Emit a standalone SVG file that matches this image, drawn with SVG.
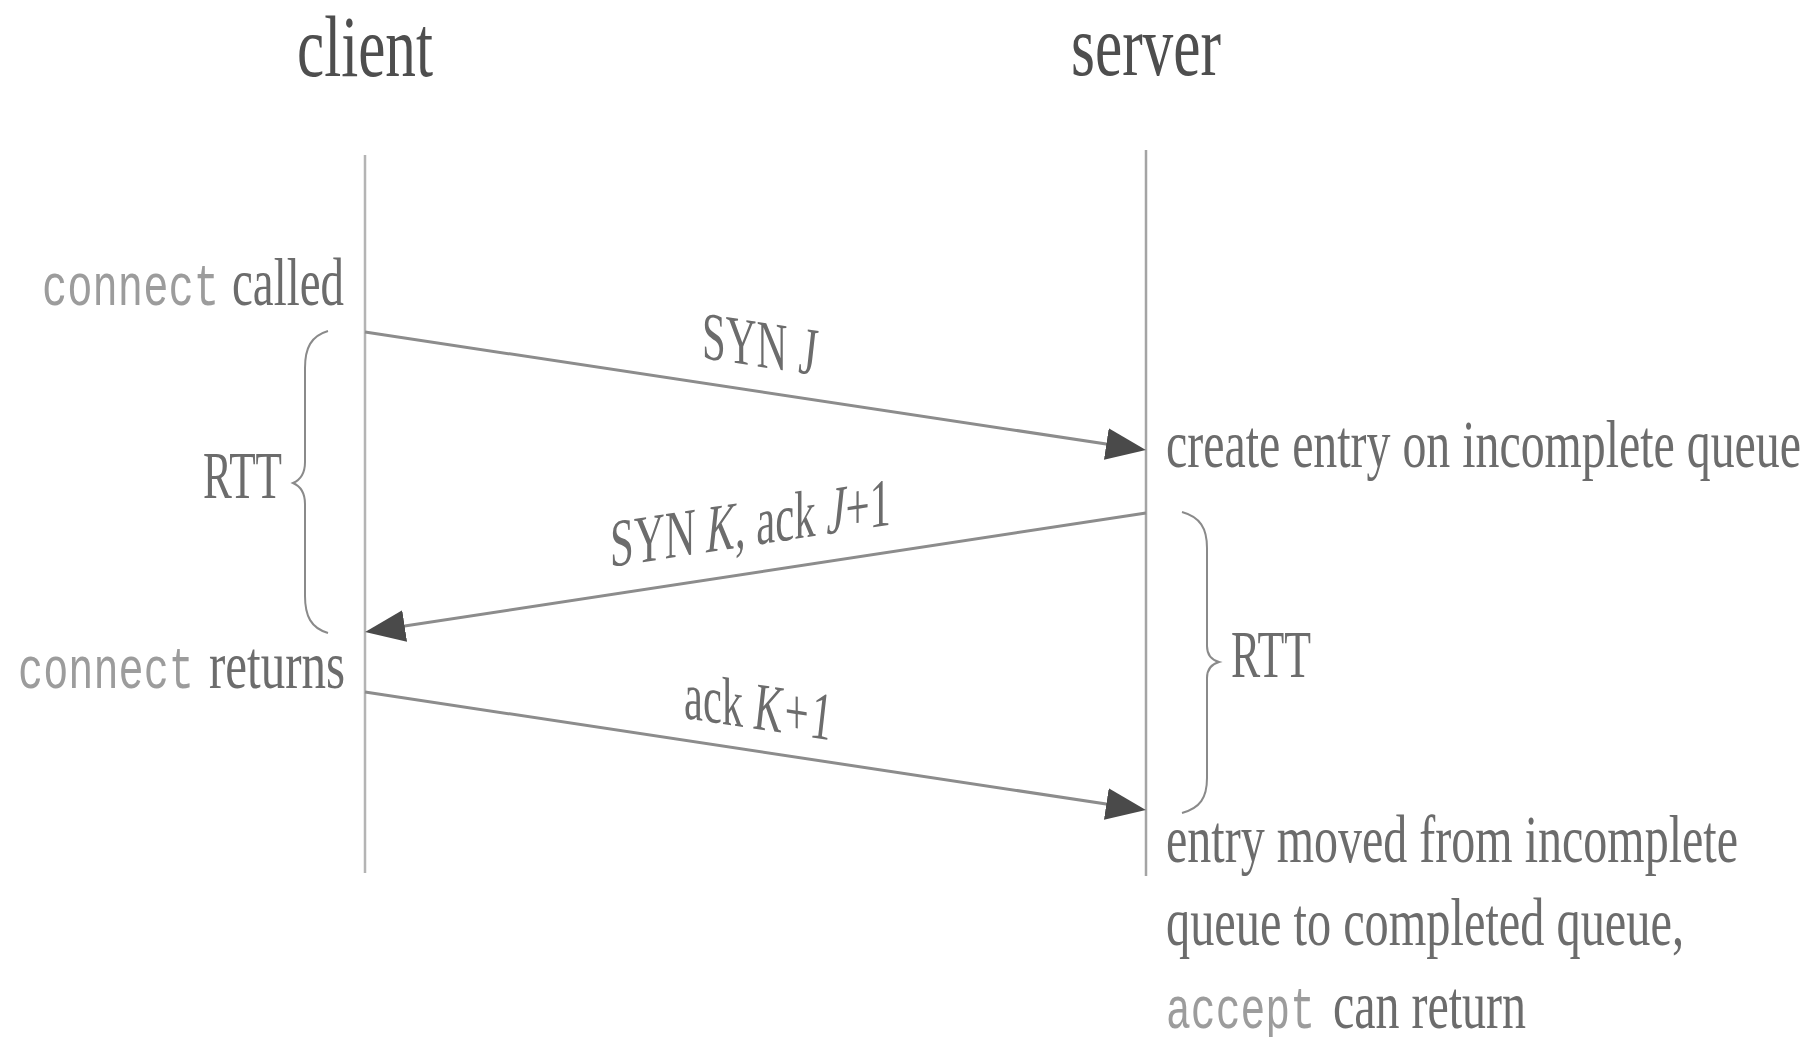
<svg xmlns="http://www.w3.org/2000/svg" width="1810" height="1037" viewBox="0 0 1810 1037">
  <style>
    .title { font-family: "Liberation Serif", serif; font-size: 86px; fill: #4e4e4e; }
    .txt { font-family: "Liberation Serif", serif; font-size: 68px; fill: #6c6c6c; }
    .code { font-family: "Liberation Mono", monospace; font-size: 60px; fill: #9c9c9c; }
    .life { stroke: #b4b4b4; stroke-width: 2.5; fill: none; }
    .msg { stroke: #8c8c8c; stroke-width: 3; fill: none; }
    .brace { stroke: #8a8a8a; stroke-width: 2; fill: none; }
    .it { font-style: italic; }
  </style>
  <defs>
    <marker id="arrow" markerUnits="userSpaceOnUse" markerWidth="42" markerHeight="34" refX="30" refY="16" orient="auto">
      <path d="M0,0 L40,16 L0,32 z" fill="#4a4a4a"/>
    </marker>
  </defs>

  <g id="client">
    <text class="title" x="297" y="76" textLength="136" lengthAdjust="spacingAndGlyphs">client</text>
    <line class="life" x1="365" y1="155" x2="365" y2="873"/>
  </g>
  <g id="server">
    <text class="title" x="1071" y="75" textLength="150" lengthAdjust="spacingAndGlyphs">server</text>
    <line class="life" x1="1146" y1="150" x2="1146" y2="876" style="stroke:#a4a4a4"/>
  </g>

  <g id="connectors">
    <path class="msg" d="M365,332 L1136,448.5" marker-end="url(#arrow)"/>
    <path class="msg" d="M1146,513 L375,630.5" marker-end="url(#arrow)"/>
    <path class="msg" d="M365,692 L1136,808.5" marker-end="url(#arrow)"/>
  </g>

  <g id="labels-msg">
    <text class="txt" transform="translate(702,358) skewY(8.6)" textLength="115" lengthAdjust="spacingAndGlyphs">SYN <tspan class="it">J</tspan></text>
    <text class="txt" transform="translate(610,567) skewY(-8.6)" textLength="281" lengthAdjust="spacingAndGlyphs">SYN <tspan class="it">K</tspan>, ack <tspan class="it">J</tspan>+1</text>
    <text class="txt" transform="translate(684,718) skewY(8.6)" textLength="148" lengthAdjust="spacingAndGlyphs">ack <tspan class="it">K+1</tspan></text>
  </g>

  <g id="client-notes">
    <text class="code" x="42" y="305" textLength="177" lengthAdjust="spacingAndGlyphs">connect</text>
    <text class="txt" x="232" y="305" textLength="112" lengthAdjust="spacingAndGlyphs">called</text>
    <path class="brace" d="M328,331 C311,336 305,348 305,368 L305,462 C305,474 300,480 293,483 C300,486 305,492 305,504 L305,596 C305,616 311,628 328,633"/>
    <text class="txt" x="203" y="498" textLength="79" lengthAdjust="spacingAndGlyphs">RTT</text>
    <text class="code" x="18" y="688" textLength="176" lengthAdjust="spacingAndGlyphs">connect</text>
    <text class="txt" x="209" y="688" textLength="136" lengthAdjust="spacingAndGlyphs">returns</text>
  </g>

  <g id="server-notes">
    <text class="txt" x="1166" y="467" textLength="635" lengthAdjust="spacingAndGlyphs">create entry on incomplete queue</text>
    <path class="brace" d="M1182,512 C1200,517 1207,528 1207,548 L1207,646 C1207,655 1212,660 1219,662 C1212,664 1207,669 1207,678 L1207,778 C1207,798 1200,808 1182,813"/>
    <text class="txt" x="1231" y="677" textLength="80" lengthAdjust="spacingAndGlyphs">RTT</text>
    <text class="txt" x="1166" y="862" textLength="572" lengthAdjust="spacingAndGlyphs">entry moved from incomplete</text>
    <text class="txt" x="1166" y="945" textLength="518" lengthAdjust="spacingAndGlyphs">queue to completed queue,</text>
    <text class="code" x="1166" y="1028" textLength="149" lengthAdjust="spacingAndGlyphs">accept</text>
    <text class="txt" x="1333" y="1028" textLength="193" lengthAdjust="spacingAndGlyphs">can return</text>
  </g>
</svg>
